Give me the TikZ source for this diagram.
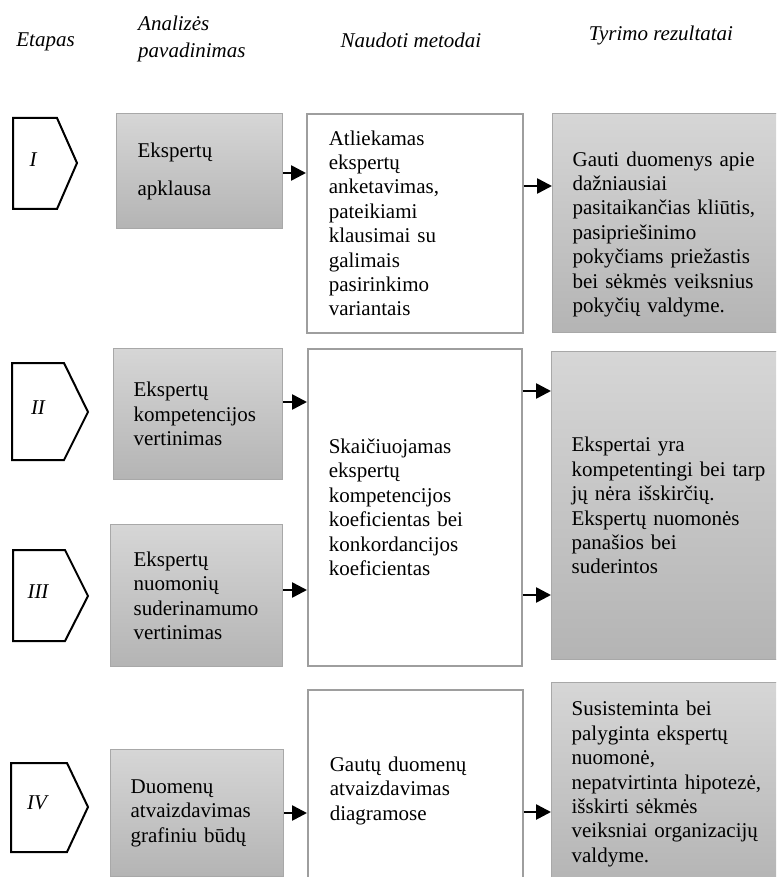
\documentclass[tikz,border=0pt]{standalone}
\usepackage{fontspec}
\setmainfont{Liberation Serif}
\usetikzlibrary{arrows.meta}
\definecolor{gtop}{RGB}{214,214,214}
\definecolor{gbot}{RGB}{180,180,180}
\definecolor{gline}{RGB}{168,168,168}
\definecolor{wline}{RGB}{158,158,158}
\begin{document}
\begin{tikzpicture}[x=1pt,y=-1pt,
  body/.style={font=\fontsize{21}{24.4}\selectfont, align=left, anchor=north west, inner ysep=0pt},
  graybox/.style={body, draw=gline, line width=1.3pt, top color=gtop, bottom color=gbot},
  whitebox/.style={body, draw=wline, line width=1.6pt, fill=white},
  head/.style={font=\fontsize{21}{27}\selectfont\itshape, inner sep=0pt},
  stage/.style={draw=black, line width=2pt, line join=miter, fill=white},
  stagelabel/.style={font=\fontsize{21}{24}\selectfont\itshape, inner sep=0pt},
  arr/.style={line width=2.6pt, -{Triangle[length=15pt,width=15pt]}}
]
\useasboundingbox (0,0) rectangle (776,877);
\clip (0,0) rectangle (776,877);

% header
\node[head] (hE) at (45.5,42) {Etapas};
\node[head, align=left, anchor=west] (hA) at (138,38.5) {Analizės\\pavadinimas};
\node[head] (hN) at (411,40) {Naudoti metodai};
\node[head] (hT) at (661,35) {Tyrimo rezultatai};

% stages
\draw[stage] (13,118) -- (57,118) -- (77,163) -- (57,209) -- (13,209) -- cycle;
\node[stagelabel] (sI) at (33,160) {I};
\draw[stage] (12,363) -- (64,363) -- (88,412) -- (64,460) -- (12,460) -- cycle;
\node[stagelabel] (sII) at (38,408) {II};
\draw[stage] (13,550) -- (65,550) -- (88,596) -- (65,641) -- (13,641) -- cycle;
\node[stagelabel] (sIII) at (38,592) {III};
\draw[stage] (11,763) -- (67,763) -- (88,807) -- (67,852) -- (11,852) -- cycle;
\node[stagelabel] (sIV) at (37,803) {IV};

% analysis boxes
\node[graybox, minimum width=166pt, minimum height=115pt, inner xsep=21pt, text width=124pt,
      font=\fontsize{21}{38}\selectfont] (a1) at (116,113) {Ekspertų\\apklausa};
\node[graybox, minimum width=169pt, minimum height=131pt, inner xsep=20pt, text width=129pt]
      (a2) at (113,348) {Ekspertų\\kompetencijos\\vertinimas};
\node[graybox, minimum width=172pt, minimum height=142pt, inner xsep=23pt, text width=126pt]
      (a3) at (110,524) {Ekspertų\\nuomonių\\suderinamumo\\vertinimas};
\node[graybox, minimum width=173pt, minimum height=127pt, inner xsep=20pt, text width=133pt]
      (a4) at (110,749) {Duomenų\\atvaizdavimas\\grafiniu būdų};

% method boxes
\node[whitebox, minimum width=216pt, minimum height=219pt, inner xsep=22pt, text width=172pt]
      (m1) at (306,113) {Atliekamas\\ekspertų\\anketavimas,\\pateikiami\\klausimai su\\galimais\\pasirinkimo\\variantais};
\node[whitebox, minimum width=214pt, minimum height=317pt, inner xsep=21pt, text width=172pt]
      (m2) at (307,348) {Skaičiuojamas\\ekspertų\\kompetencijos\\koeficientas bei\\konkordancijos\\koeficientas};
\node[whitebox, minimum width=215pt, minimum height=202pt, inner xsep=22pt, text width=171pt]
      (m3) at (307,689) {Gautų duomenų\\atvaizdavimas\\diagramose};

% result boxes
\node[graybox, minimum width=260pt, minimum height=219pt, inner xsep=20pt, text width=220pt]
      (r1) at (552,113) {\rule{0pt}{37pt}Gauti duomenys apie\\dažniausiai\\pasitaikančias kliūtis,\\pasipriešinimo\\pokyčiams priežastis\\bei sėkmės veiksnius\\pokyčių valdyme.};
\node[graybox, minimum width=260pt, minimum height=308pt, inner xsep=20pt, text width=220pt]
      (r2) at (551,351) {Ekspertai yra\\kompetentingi bei tarp\\jų nėra išskirčių.\\Ekspertų nuomonės\\panašios bei\\suderintos};
\node[graybox, minimum width=260pt, minimum height=203pt, inner xsep=20pt, text width=220pt]
      (r3) at (551,682) {Susisteminta bei\\palyginta ekspertų\\nuomonė,\\nepatvirtinta hipotezė,\\išskirti sėkmės\\veiksniai organizacijų\\valdyme.};

% arrows
\coordinate (y1) at (0,173);
\coordinate (y2) at (0,186);
\coordinate (y3) at (0,402);
\coordinate (y4) at (0,590);
\coordinate (y5) at (0,391);
\coordinate (y6) at (0,595);
\coordinate (y7) at (0,813);
\coordinate (y8) at (0,812);
\draw[arr] (a1.east |- y1) -- (m1.west |- y1);
\draw[arr] (m1.east |- y2) -- (r1.west |- y2);
\draw[arr] (a2.east |- y3) -- (m2.west |- y3);
\draw[arr] (a3.east |- y4) -- (m2.west |- y4);
\draw[arr] (m2.east |- y5) -- (r2.west |- y5);
\draw[arr] (m2.east |- y6) -- (r2.west |- y6);
\draw[arr] (a4.east |- y7) -- (m3.west |- y7);
\draw[arr] (m3.east |- y8) -- (r3.west |- y8);
\end{tikzpicture}
\end{document}
